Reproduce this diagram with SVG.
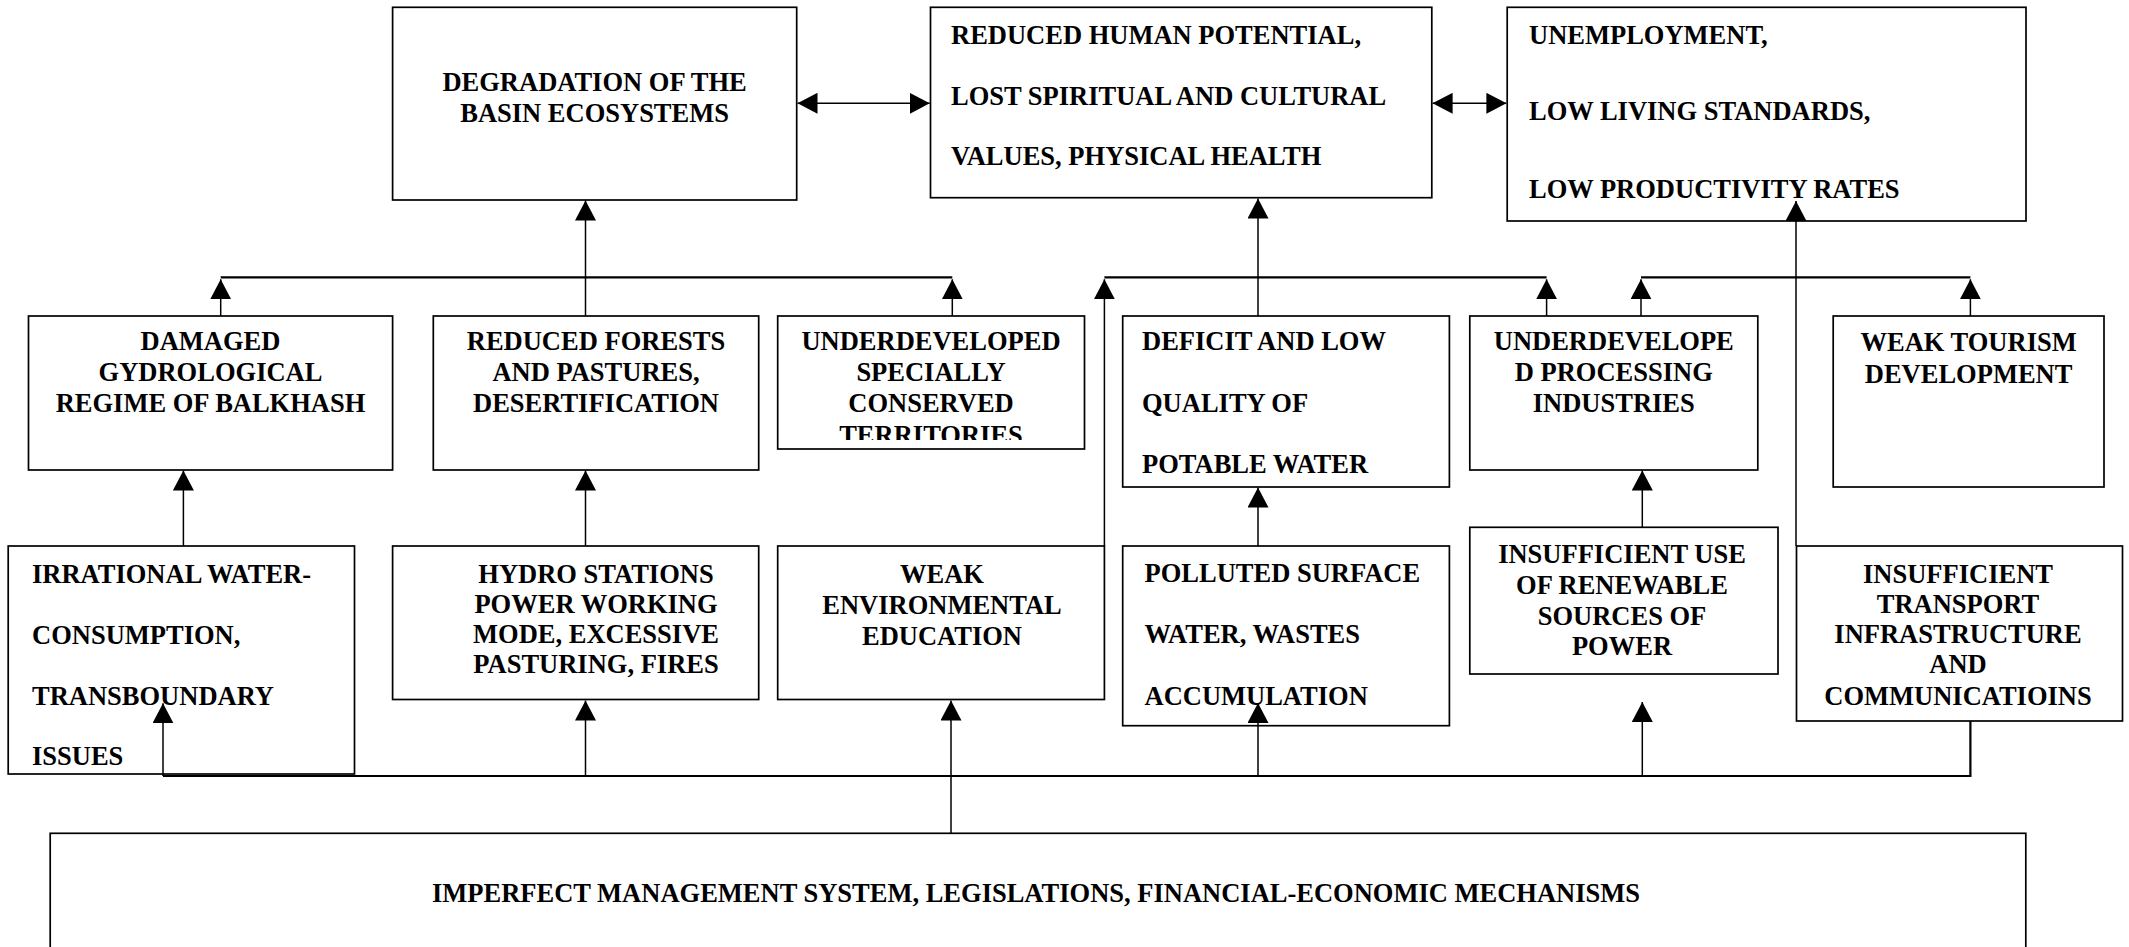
<svg xmlns="http://www.w3.org/2000/svg" width="2129" height="947" viewBox="0 0 2129 947">
<style>
.box{fill:#fff;stroke:#000;stroke-width:1.7}
.t{font-family:"Liberation Serif","Times New Roman",serif;font-weight:bold;font-size:26.5px;fill:#000}
.c{text-anchor:middle}
.ln{fill:none;stroke:#000;stroke-width:1.5}
.bus{fill:none;stroke:#000;stroke-width:2.2}
</style>
<defs>
<marker id="ah" viewBox="0 0 20 21" refX="20" refY="10.5" markerWidth="20" markerHeight="21" markerUnits="userSpaceOnUse" orient="auto-start-reverse">
<path d="M0,0 L20,10.5 L0,21 z" fill="#000"/>
</marker>
<clipPath id="clipCons"><rect x="777.7" y="316" width="306.8" height="124"/></clipPath>
</defs>
<rect width="2129" height="947" fill="#fff"/>

<g id="n-degradation">
<rect class="box" x="392.6" y="7.3" width="404.1" height="192.7"/>
<text class="t c" x="594.6" y="90.7">DEGRADATION OF THE</text>
<text class="t c" x="594.6" y="122.3">BASIN ECOSYSTEMS</text>
</g>
<g id="n-human">
<rect class="box" x="930.5" y="7.3" width="501.3" height="190.4"/>
<text class="t" x="951" y="44">REDUCED HUMAN POTENTIAL,</text>
<text class="t" x="951" y="104.5">LOST SPIRITUAL AND CULTURAL</text>
<text class="t" x="951" y="165">VALUES, PHYSICAL HEALTH</text>
</g>
<g id="n-unemployment">
<rect class="box" x="1507.2" y="7.3" width="518.8" height="213.7"/>
<text class="t" x="1529" y="44">UNEMPLOYMENT,</text>
<text class="t" x="1529" y="120">LOW LIVING STANDARDS,</text>
<text class="t" x="1529" y="197.5">LOW PRODUCTIVITY RATES</text>
</g>

<g id="n-damaged">
<rect class="box" x="28.5" y="316" width="364.1" height="154"/>
<text class="t c" x="210.5" y="350">DAMAGED</text>
<text class="t c" x="210.5" y="380.5">GYDROLOGICAL</text>
<text class="t c" x="210.5" y="411.5">REGIME OF BALKHASH</text>
</g>
<g id="n-forests">
<rect class="box" x="433.3" y="316" width="325.4" height="154"/>
<text class="t c" x="596" y="350">REDUCED FORESTS</text>
<text class="t c" x="596" y="380.5">AND PASTURES,</text>
<text class="t c" x="596" y="411.5">DESERTIFICATION</text>
</g>
<g id="n-conserved">
<rect class="box" x="777.7" y="316" width="306.8" height="133"/>
<g clip-path="url(#clipCons)">
<text class="t c" x="931" y="350">UNDERDEVELOPED</text>
<text class="t c" x="931" y="380.5">SPECIALLY</text>
<text class="t c" x="931" y="411.5">CONSERVED</text>
<text class="t c" x="931" y="443.5">TERRITORIES</text>
</g>
</g>
<g id="n-deficit">
<rect class="box" x="1122.7" y="316" width="326.7" height="171"/>
<text class="t" x="1142" y="350">DEFICIT AND LOW</text>
<text class="t" x="1142" y="411.5">QUALITY OF</text>
<text class="t" x="1142" y="473">POTABLE WATER</text>
</g>
<g id="n-processing">
<rect class="box" x="1469.8" y="316" width="288" height="154"/>
<text class="t c" x="1613.8" y="350">UNDERDEVELOPE</text>
<text class="t c" x="1613.8" y="381">D PROCESSING</text>
<text class="t c" x="1613.8" y="412">INDUSTRIES</text>
</g>
<g id="n-tourism">
<rect class="box" x="1833.2" y="316" width="270.8" height="171"/>
<text class="t c" x="1968.6" y="351">WEAK TOURISM</text>
<text class="t c" x="1968.6" y="383">DEVELOPMENT</text>
</g>

<g id="n-irrational">
<rect class="box" x="8.2" y="546" width="346.3" height="228"/>
<text class="t" x="32" y="583">IRRATIONAL WATER-</text>
<text class="t" x="32" y="644">CONSUMPTION,</text>
<text class="t" x="32" y="705">TRANSBOUNDARY</text>
<text class="t" x="32" y="765">ISSUES</text>
</g>
<g id="n-hydro">
<rect class="box" x="392.6" y="546" width="366.1" height="153.5"/>
<text class="t c" x="596" y="583">HYDRO STATIONS</text>
<text class="t c" x="596" y="613">POWER WORKING</text>
<text class="t c" x="596" y="643">MODE, EXCESSIVE</text>
<text class="t c" x="596" y="673">PASTURING, FIRES</text>
</g>
<g id="n-education">
<rect class="box" x="777.7" y="546" width="326.7" height="153.5"/>
<text class="t c" x="942" y="583">WEAK</text>
<text class="t c" x="942" y="614">ENVIRONMENTAL</text>
<text class="t c" x="942" y="645">EDUCATION</text>
</g>
<g id="n-polluted">
<rect class="box" x="1122.7" y="546" width="326.7" height="179.7"/>
<text class="t" x="1144.5" y="582">POLLUTED SURFACE</text>
<text class="t" x="1144.5" y="643">WATER, WASTES</text>
<text class="t" x="1144.5" y="705">ACCUMULATION</text>
</g>
<g id="n-renewable">
<rect class="box" x="1469.8" y="527.3" width="308.2" height="146.7"/>
<text class="t c" x="1622" y="563">INSUFFICIENT USE</text>
<text class="t c" x="1622" y="594">OF RENEWABLE</text>
<text class="t c" x="1622" y="625">SOURCES OF</text>
<text class="t c" x="1622" y="655">POWER</text>
</g>
<g id="n-transport">
<rect class="box" x="1796.5" y="546" width="326" height="175"/>
<text class="t c" x="1958" y="583">INSUFFICIENT</text>
<text class="t c" x="1958" y="613">TRANSPORT</text>
<text class="t c" x="1958" y="643">INFRASTRUCTURE</text>
<text class="t c" x="1958" y="673">AND</text>
<text class="t c" x="1958" y="705">COMMUNICATIOINS</text>
</g>
<g id="n-management">
<rect class="box" x="50.2" y="833.3" width="1975.6" height="200"/>
<text class="t c" x="1036" y="901.7">IMPERFECT MANAGEMENT SYSTEM, LEGISLATIONS, FINANCIAL-ECONOMIC MECHANISMS</text>
</g>

<g id="connectors">
<line class="ln" x1="797.5" y1="103.3" x2="929.7" y2="103.3" marker-start="url(#ah)" marker-end="url(#ah)"/>
<line class="ln" x1="1432.6" y1="103.3" x2="1506.4" y2="103.3" marker-start="url(#ah)" marker-end="url(#ah)"/>
<line class="ln" x1="585.5" y1="316" x2="585.5" y2="200.5" marker-end="url(#ah)"/>
<line class="bus" x1="220.7" y1="277.3" x2="952.3" y2="277.3"/>
<line class="ln" x1="220.7" y1="316" x2="220.7" y2="279.3" marker-end="url(#ah)"/>
<line class="ln" x1="952.3" y1="316" x2="952.3" y2="279.3" marker-end="url(#ah)"/>
<line class="ln" x1="1258" y1="316" x2="1258" y2="198.5" marker-end="url(#ah)"/>
<line class="bus" x1="1104.4" y1="277.3" x2="1546.6" y2="277.3"/>
<line class="ln" x1="1104.4" y1="546" x2="1104.4" y2="279.3" marker-end="url(#ah)"/>
<line class="ln" x1="1546.6" y1="316" x2="1546.6" y2="279.3" marker-end="url(#ah)"/>
<line class="bus" x1="1641" y1="277.3" x2="1970.4" y2="277.3"/>
<line class="ln" x1="1641" y1="316" x2="1641" y2="279.3" marker-end="url(#ah)"/>
<line class="ln" x1="1970.4" y1="316" x2="1970.4" y2="279.3" marker-end="url(#ah)"/>
<line class="ln" x1="1796" y1="546" x2="1796" y2="201" marker-end="url(#ah)"/>
<line class="ln" x1="183.4" y1="546" x2="183.4" y2="470.5" marker-end="url(#ah)"/>
<line class="ln" x1="585.5" y1="546" x2="585.5" y2="470.5" marker-end="url(#ah)"/>
<line class="ln" x1="1258" y1="546" x2="1258" y2="487.5" marker-end="url(#ah)"/>
<line class="ln" x1="1642.3" y1="527.3" x2="1642.3" y2="470.5" marker-end="url(#ah)"/>
<polyline class="bus" points="1970.4,721 1970.4,776 163,776"/>
<line class="ln" x1="163" y1="776" x2="163" y2="703.3" marker-end="url(#ah)"/>
<line class="ln" x1="585.5" y1="776" x2="585.5" y2="700.5" marker-end="url(#ah)"/>
<line class="ln" x1="951" y1="776" x2="951" y2="700.5" marker-end="url(#ah)"/>
<line class="ln" x1="1258" y1="776" x2="1258" y2="703" marker-end="url(#ah)"/>
<line class="ln" x1="1642.3" y1="776" x2="1642.3" y2="702" marker-end="url(#ah)"/>
<line class="ln" x1="951" y1="776" x2="951" y2="833.3"/>
</g>
</svg>
